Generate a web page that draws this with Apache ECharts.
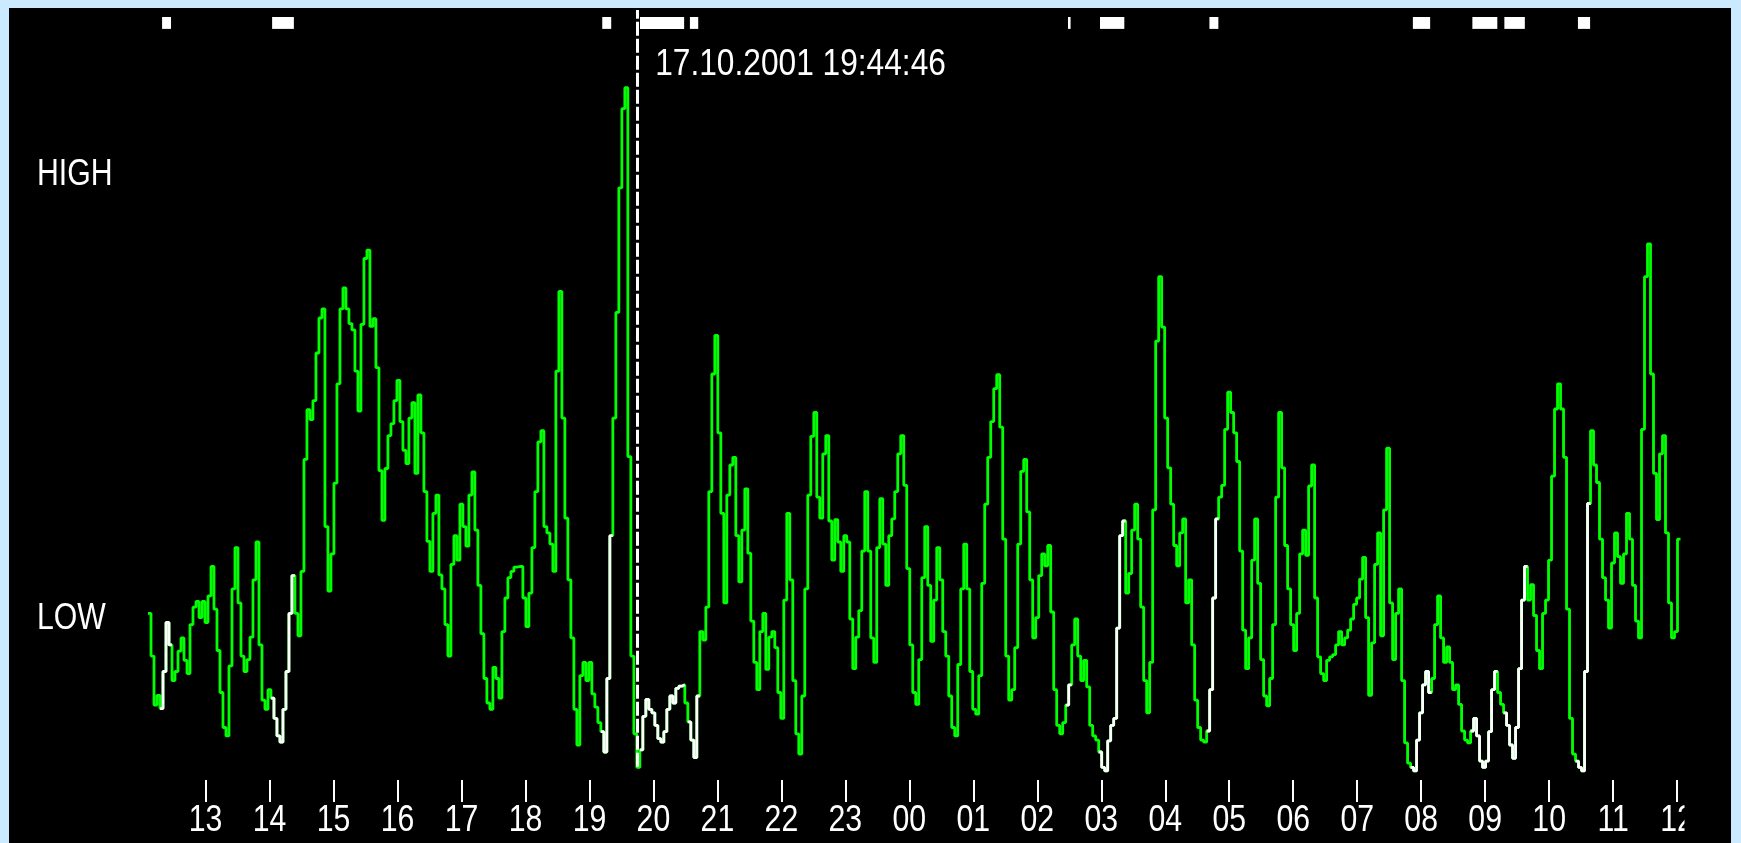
<!DOCTYPE html>
<html>
<head>
<meta charset="utf-8">
<script src="https://cdn.jsdelivr.net/npm/echarts@6/dist/echarts.min.js"></script>
<style>
  html, body { margin: 0; padding: 0; width: 1741px; height: 843px; background: #cceaff; overflow: hidden; }
  #panel { position: absolute; left: 9px; top: 8px; width: 1722px; height: 835px; background: #000; }
</style>
</head>
<body>
<div id="panel"></div>
<script>
// ---- recorded data -------------------------------------------------------
// Level trace, one sample every 2.8125 min (512 samples / 24 h), starting 12:06 on 17.10.2001.
const sampleStartHour = 12.1;
const sampleStepMinutes = 2.8125;
const sampleLevels = [
  23.8, 17.7, 10.7, 12.1, 10.2, 15.5, 22.5, 19.3, 14.2, 15.5, 18.4, 20.3, 17.1, 15.2, 22.2, 24.7,
  25.5, 23.2, 25.5, 22.5, 26.3, 30.5, 24.4, 18.5, 12.5, 7.5, 6.3, 16.3, 27.3, 33.2, 25.3, 17.7,
  15.5, 17.2, 20.4, 28.6, 34.0, 19.3, 11.4, 10.1, 12.9, 11.7, 8.8, 6.3, 5.4, 10.1, 15.5, 23.8,
  29.2, 23.8, 20.6, 29.8, 45.8, 52.9, 51.5, 54.2, 61.0, 66.0, 67.3, 36.2, 27.0, 32.3, 42.4, 56.6,
  67.3, 70.3, 67.3, 65.2, 64.3, 58.4, 52.7, 65.1, 74.5, 75.7, 64.8, 65.9, 58.9, 44.2, 37.1, 44.5,
  49.2, 50.9, 54.2, 57.1, 51.2, 47.1, 45.2, 51.7, 53.9, 43.8, 55.0, 49.6, 41.2, 34.1, 29.8, 38.1,
  40.7, 29.3, 27.3, 22.2, 17.7, 30.8, 34.9, 31.4, 39.4, 36.2, 33.4, 40.7, 44.0, 35.7, 27.8, 20.9,
  14.5, 11.0, 10.1, 16.1, 14.5, 11.7, 21.2, 26.0, 28.9, 29.8, 30.4, 30.5, 30.5, 26.0, 21.9, 26.7,
  33.2, 41.2, 48.3, 49.9, 36.2, 35.3, 33.7, 29.8, 58.4, 69.8, 51.7, 37.4, 28.6, 20.3, 10.1, 5.0,
  14.9, 16.8, 14.2, 16.8, 12.3, 10.4, 8.2, 6.9, 4.0, 14.5, 34.9, 51.7, 66.8, 84.6, 95.9, 98.9,
  46.2, 17.7, 6.6, 1.8, 4.3, 9.1, 11.5, 10.1, 9.6, 7.8, 5.9, 5.4, 6.9, 10.1, 12.0, 11.0,
  13.1, 13.4, 13.6, 11.0, 8.3, 5.7, 3.2, 12.0, 21.2, 20.0, 24.7, 41.2, 58.0, 63.5, 49.6, 38.1,
  25.3, 40.7, 45.0, 46.1, 34.9, 28.3, 35.7, 41.6, 32.4, 22.7, 16.8, 12.9, 21.2, 23.8, 15.8, 20.4,
  21.2, 18.9, 12.5, 8.8, 25.7, 38.1, 28.6, 14.2, 6.6, 3.7, 12.0, 27.3, 40.7, 49.1, 52.5, 40.4,
  37.4, 46.6, 49.2, 37.0, 31.4, 37.2, 34.0, 29.8, 34.9, 34.0, 23.0, 15.9, 20.4, 24.2, 32.7, 41.2,
  32.7, 20.3, 16.8, 33.2, 40.2, 33.7, 27.8, 34.9, 37.3, 41.2, 46.6, 49.2, 42.1, 30.2, 19.3, 12.5,
  10.8, 17.2, 28.9, 36.2, 27.8, 19.8, 25.7, 33.2, 28.6, 21.2, 17.7, 12.0, 7.5, 6.3, 16.5, 27.3,
  33.7, 27.3, 15.5, 10.1, 9.4, 14.9, 28.1, 39.4, 46.1, 51.2, 55.9, 57.9, 50.4, 34.4, 17.7, 11.4,
  12.9, 18.9, 33.7, 44.1, 45.8, 38.3, 28.6, 20.3, 23.2, 29.2, 32.3, 30.6, 33.5, 24.0, 12.9, 7.8,
  6.6, 8.2, 10.7, 13.6, 19.3, 23.0, 17.7, 14.2, 17.1, 13.3, 7.8, 6.3, 5.7, 4.0, 1.8, 1.3,
  5.6, 7.8, 8.8, 21.7, 34.9, 37.0, 26.7, 29.5, 35.7, 39.4, 34.4, 24.7, 14.2, 9.6, 16.8, 38.6,
  62.7, 71.9, 64.7, 51.7, 44.6, 39.4, 33.5, 30.6, 35.3, 37.3, 25.3, 28.6, 19.3, 11.4, 7.5, 5.7,
  5.4, 7.0, 12.9, 26.0, 37.3, 40.4, 42.1, 50.1, 55.4, 52.5, 49.6, 45.5, 32.7, 21.4, 15.9, 20.3,
  31.4, 37.3, 28.1, 17.2, 12.0, 10.6, 14.5, 22.2, 40.4, 52.5, 44.6, 33.5, 27.3, 22.2, 18.5, 23.8,
  32.3, 35.7, 32.1, 42.0, 45.0, 26.0, 17.6, 15.2, 14.2, 17.1, 17.6, 17.9, 19.3, 21.2, 19.3, 20.3,
  21.4, 23.0, 25.1, 26.0, 28.7, 31.8, 23.2, 12.1, 19.6, 30.8, 35.3, 20.6, 38.6, 47.4, 25.3, 17.2,
  23.8, 27.3, 14.2, 5.3, 2.4, 1.8, 1.3, 5.7, 9.6, 13.6, 15.5, 12.5, 14.5, 22.2, 26.3, 20.3,
  16.8, 19.0, 16.8, 12.9, 13.6, 10.8, 7.0, 5.7, 5.3, 7.0, 8.8, 6.3, 2.7, 1.8, 2.7, 6.9,
  12.9, 15.5, 12.5, 10.8, 9.6, 7.8, 5.0, 3.1, 7.5, 15.9, 25.7, 30.5, 25.7, 27.9, 23.5, 18.5,
  15.9, 23.8, 25.7, 31.4, 43.4, 53.0, 56.6, 53.0, 46.1, 24.4, 8.8, 3.7, 2.7, 1.8, 1.3, 15.5,
  39.5, 49.9, 45.0, 42.5, 34.4, 28.9, 25.7, 21.7, 31.0, 35.3, 31.9, 28.1, 32.3, 38.1, 34.4, 27.8,
  22.7, 20.3, 50.1, 71.9, 76.6, 58.0, 43.8, 37.2, 46.6, 49.2, 35.3, 25.3, 20.3, 21.2, 34.4, 34.4
];

// Event periods (hours; values above 24 belong to the next day). Drawn as bars along the top
// and the trace is shown in white while an event is active.
const eventSpans = [
  [12.32, 12.46], [14.04, 14.38], [19.20, 19.34], [19.79, 20.48], [20.57, 20.70],
  [26.48, 26.52], [26.98, 27.36], [28.69, 28.83], [31.87, 32.14], [32.80, 33.19],
  [33.30, 33.62], [34.45, 34.64]
];
const eventBand = [107.3, 109.0];

// Hour ticks along the time axis.
const hourTicks = [13, 14, 15, 16, 17, 18, 19, 20, 21, 22, 23, 24, 25, 26, 27, 28, 29, 30, 31, 32, 33, 34, 35, 36];

// Named levels on the vertical scale.
const levelNames = ['LOW', 'HIGH'];
const levelValues = [23, 86.4];

// Cursor position and the level its caption sits at.
const cursorDate = '17.10.2001';
const cursorTime = '19:44:46';
const cursorCaptionLevel = 102.2;

// ---- chart ---------------------------------------------------------------
const FONT_FAMILY = "'Liberation Sans', Arial, sans-serif";
const FONT_SIZE = 36;
const NARROW = 0.84;          // horizontal squeeze of the display font
const NARROW_CAPTION = 0.88;  // cursor caption is set a little wider

const stepHours = sampleStepMinutes / 60;
const times = sampleLevels.map((_, i) => sampleStartHour + i * stepHours);
const inEvent = t => eventSpans.some(([s, e]) => t >= s && t <= e);
const flagged = times.map(inEvent);

const traceData = sampleLevels.map((v, i) => [times[i], v]);
const eventTraceData = sampleLevels.map((v, i) =>
  (flagged[i] || flagged[i + 1]) ? [times[i], v] : [times[i], null]);

const [hh, mm, ss] = cursorTime.split(':').map(Number);
const cursorHour = hh + mm / 60 + ss / 3600;

const chart = echarts.init(document.getElementById('panel'), null, { renderer: 'canvas' });

chart.setOption({
  animation: false,
  backgroundColor: '#000',
  grid: { left: 139, top: 2, width: 1535.5, height: 770, containLabel: false },
  xAxis: {
    type: 'value',
    min: sampleStartHour,
    max: sampleStartHour + 24,
    axisLine: { show: false },
    splitLine: { show: false },
    axisTick: {
      show: true,
      customValues: hourTicks,
      length: 22,
      lineStyle: { color: '#fff', width: 2 }
    },
    axisLabel: { show: false }
  },
  yAxis: {
    type: 'value',
    min: 0,
    max: 110,
    axisLine: { show: false },
    axisTick: { show: false },
    splitLine: { show: false },
    axisLabel: { show: false }
  },
  series: [
    {
      name: 'level',
      type: 'line',
      step: 'end',
      symbol: 'none',
      sampling: null,
      data: traceData,
      lineStyle: { color: '#00ff00', width: 2.8 },
      z: 2,
      markArea: {
        silent: true,
        itemStyle: { color: '#fff', opacity: 1 },
        data: eventSpans.map(([s, e]) => [
          { xAxis: s, yAxis: eventBand[0] },
          { xAxis: e, yAxis: eventBand[1] }
        ])
      },
      markLine: {
        silent: true,
        symbol: ['none', 'none'],
        label: { show: false },
        lineStyle: { color: '#fff', width: 3, type: [14, 3] },
        data: [[{ coord: [cursorHour, 1.9] }, { coord: [cursorHour, 110] }]]
      }
    },
    {
      name: 'event',
      type: 'line',
      step: 'end',
      symbol: 'none',
      sampling: null,
      connectNulls: false,
      data: eventTraceData,
      lineStyle: { color: '#ffffff', width: 2.8 },
      z: 3
    }
  ]
});

// ---- captions in the narrow display face, placed through the axis scales ----
const xPx = h => chart.convertToPixel({ xAxisIndex: 0 }, h);
const yPx = v => chart.convertToPixel({ yAxisIndex: 0 }, v);
const gridLeftPx = xPx(sampleStartHour);
const axisBottomPx = yPx(0);

function caption(text, x, y, align, squeeze) {
  return {
    type: 'text',
    x: x,
    y: y,
    scaleX: squeeze,
    z: 50,
    silent: true,
    style: {
      text: text,
      fill: '#fff',
      fontSize: FONT_SIZE,
      fontFamily: FONT_FAMILY,
      align: align,
      textAlign: align,
      verticalAlign: 'middle',
      textVerticalAlign: 'middle'
    }
  };
}

const captions = [];
hourTicks.forEach(h => {
  captions.push(caption(String(h % 24).padStart(2, '0'), xPx(h), axisBottomPx + 41, 'center', NARROW));
});
levelValues.forEach((v, k) => {
  captions.push(caption(levelNames[k], gridLeftPx - 111, yPx(v), 'left', NARROW));
});
captions.push(caption(cursorDate + ' ' + cursorTime, xPx(cursorHour) + 18, yPx(cursorCaptionLevel), 'left', NARROW_CAPTION));
// the time scale is cut off at the right edge of the plot
captions.push({
  type: 'rect', x: xPx(sampleStartHour + 24) + 1, y: axisBottomPx + 14, z: 60, silent: true,
  shape: { width: 60, height: 60 }, style: { fill: '#000' }
});

chart.setOption({ graphic: captions });
</script>
</body>
</html>
